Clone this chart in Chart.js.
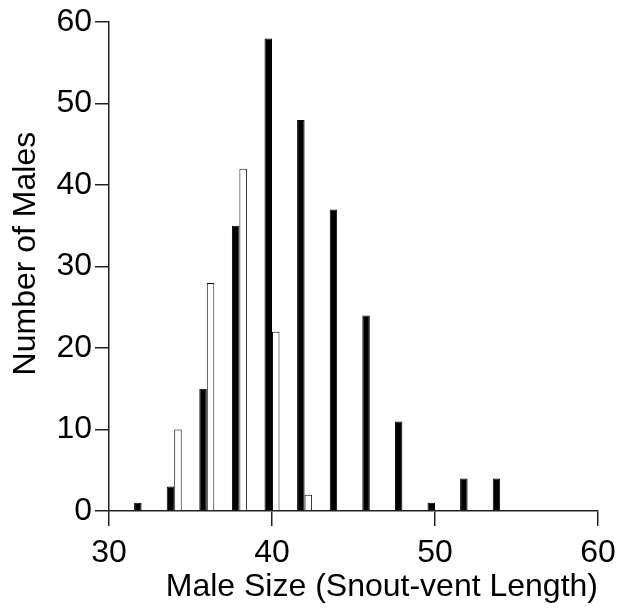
<!DOCTYPE html>
<html>
<head>
    <meta charset="utf-8">
    <title>Male Size</title>
    <script src="https://cdn.jsdelivr.net/npm/chart.js"></script>
    <style>
        html, body { margin: 0; padding: 0; background: #fff; }
        #wrap { width: 619px; height: 609px; }
    </style>
</head>
<body>
    <div id="wrap"><canvas id="sizeChart"></canvas></div>

    <script>
        // bin centres (snout-vent length) and counts for the two groups
        const binCenters = [32, 34, 36, 38, 40, 42, 44, 46, 48, 50, 52, 54, 56, 58];
        const blackCounts = [1, 3, 15, 35, 58, 48, 37, 24, 11, 1, 4, 4, 0, 0];
        const whiteCounts = [0, 10, 28, 42, 22, 2, 0, 0, 0, 0, 0, 0, 0, 0];
        const xTicks = [30, 40, 50, 60];
        const yTicks = [0, 10, 20, 30, 40, 50, 60];

        const fontFamily = "'Liberation Sans', Arial, sans-serif";
        const lineColor = "#222";

        // y axis title, placed a little above the plot centre like the original
        const yTitlePlugin = {
            id: "yTitle",
            afterDraw(chart) {
                const ctx = chart.ctx;
                const area = chart.chartArea;
                ctx.save();
                ctx.translate(35, (area.top + area.bottom) / 2 - 13);
                ctx.rotate(-Math.PI / 2);
                ctx.font = "32px " + fontFamily;
                ctx.fillStyle = "#000";
                ctx.textAlign = "center";
                ctx.textBaseline = "alphabetic";
                ctx.fillText("Number of Males", 0, 0);
                ctx.restore();
            }
        };

        document.addEventListener("DOMContentLoaded", () => {
            const ctx = document.getElementById("sizeChart").getContext("2d");
            new Chart(ctx, {
                type: "bar",
                data: {
                    datasets: [{
                        label: "black",
                        data: binCenters.map((x, i) => ({ x: x, y: blackCounts[i] })),
                        backgroundColor: "#000",
                        borderColor: "#000",
                        borderWidth: 1
                    }, {
                        label: "white",
                        data: binCenters.map((x, i) => ({ x: x, y: whiteCounts[i] })),
                        backgroundColor: "#fff",
                        borderColor: "#111",
                        borderWidth: 1
                    }]
                },
                options: {
                    responsive: true,
                    maintainAspectRatio: false,
                    animation: false,
                    categoryPercentage: 0.46,
                    barPercentage: 1,
                    layout: { padding: { top: 22, right: 21, left: 0, bottom: 0 } },
                    plugins: {
                        legend: { display: false },
                        tooltip: { enabled: false }
                    },
                    scales: {
                        x: {
                            type: "linear",
                            min: 30,
                            max: 60,
                            offset: false,
                            afterBuildTicks: (scale) => {
                                scale.ticks = xTicks.map(v => ({ value: v }));
                            },
                            afterFit: (scale) => {
                                scale.height = 98;
                                scale.paddingLeft = 0;
                                scale.paddingRight = 0;
                            },
                            grid: {
                                offset: false,
                                drawOnChartArea: false,
                                drawTicks: true,
                                tickLength: 15,
                                color: lineColor,
                                lineWidth: 1.5
                            },
                            border: { display: true, color: lineColor, width: 1.5 },
                            ticks: {
                                color: "#000",
                                padding: 8,
                                maxRotation: 0,
                                font: { family: fontFamily, size: 32 }
                            },
                            title: {
                                display: true,
                                text: "Male Size (Snout-vent Length)",
                                align: "end",
                                color: "#000",
                                padding: { top: 0, bottom: 3 },
                                font: { family: fontFamily, size: 32 }
                            }
                        },
                        y: {
                            min: 0,
                            max: 60,
                            afterBuildTicks: (scale) => {
                                scale.ticks = yTicks.map(v => ({ value: v }));
                            },
                            afterFit: (scale) => { scale.width = 109; },
                            grid: {
                                drawOnChartArea: false,
                                drawTicks: true,
                                tickLength: 14,
                                color: lineColor,
                                lineWidth: 1.5
                            },
                            border: { display: true, color: lineColor, width: 1.5 },
                            ticks: {
                                color: "#000",
                                padding: 3,
                                font: { family: fontFamily, size: 32 }
                            }
                        }
                    }
                },
                plugins: [yTitlePlugin]
            });
        });
    </script>
</body>
</html>
